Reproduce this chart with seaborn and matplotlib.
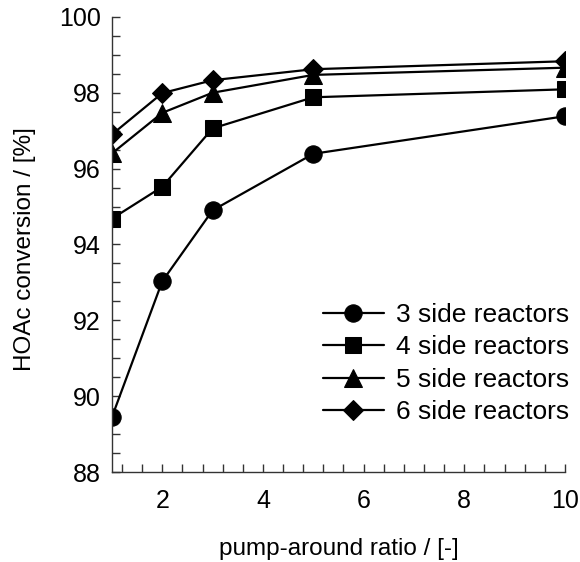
import matplotlib
matplotlib.use("Agg")
import matplotlib.pyplot as plt
import seaborn as sns
import pandas as pd
from matplotlib.ticker import MultipleLocator

sns.set_theme(style="white")
plt.rcParams['font.family'] = ['Liberation Sans', 'DejaVu Sans']
plt.rcParams['text.color'] = 'black'
plt.rcParams['axes.labelcolor'] = 'black'
plt.rcParams['xtick.color'] = 'black'
plt.rcParams['ytick.color'] = 'black'

ratio = [1, 2, 3, 5, 10]
conv_3 = [89.45, 93.03, 94.9, 96.39, 97.38]
conv_4 = [94.68, 95.52, 97.06, 97.88, 98.09]
conv_5 = [96.4, 97.47, 98.0, 98.47, 98.66]
conv_6 = [96.9, 97.99, 98.33, 98.62, 98.83]
series_names = ["3 side reactors", "4 side reactors", "5 side reactors", "6 side reactors"]

rows = []
for name, vals in zip(series_names, [conv_3, conv_4, conv_5, conv_6]):
    for x, y in zip(ratio, vals):
        rows.append({"ratio": x, "conv": y, "series": name})
df = pd.DataFrame(rows)

fig = plt.figure(figsize=(5.8, 5.62), dpi=100)
ax = fig.add_axes([0.193, 0.160, 0.781, 0.810])

marker_map = dict(zip(series_names, ["o", "s", "^", "D"]))
size_map = {"3 side reactors": 12.5, "4 side reactors": 11.5, "5 side reactors": 13, "6 side reactors": 10.5}
for name in series_names:
    sub = df[df["series"] == name]
    sns.lineplot(data=sub, x="ratio", y="conv", ax=ax, color="black",
                 marker=marker_map[name], markersize=size_map[name],
                 markeredgecolor="black", linewidth=1.6, label=name)

ax.set_xlim(1, 10)
ax.set_ylim(88, 100)
ax.xaxis.set_major_locator(MultipleLocator(2))
ax.xaxis.set_minor_locator(MultipleLocator(0.4))
ax.yaxis.set_major_locator(MultipleLocator(2))
ax.yaxis.set_minor_locator(MultipleLocator(0.5))
ax.tick_params(which="both", direction="in", length=6, width=1, color="#333333",
               labelsize=18, bottom=True, left=True, labelcolor="black")
ax.tick_params(axis="x", which="major", pad=12)
ax.tick_params(axis="y", which="major", pad=8)
for s in ["top", "right"]:
    ax.spines[s].set_visible(False)
for s in ["left", "bottom"]:
    ax.spines[s].set_color("#333333")
    ax.spines[s].set_linewidth(1)

ax.set_xlabel("pump-around ratio / [-]", fontsize=17.5)
ax.set_ylabel("HOAc conversion / [%]", fontsize=17.5)
ax.xaxis.set_label_coords(0.5, -0.145)
ax.yaxis.set_label_coords(-0.168, 0.49)

leg = ax.legend(loc="upper left", frameon=False, fontsize=19, handlelength=2.3,
                labelspacing=0.32, handletextpad=0.45, borderpad=0, borderaxespad=0,
                bbox_to_anchor=(323 / 580, 1 - 303 / 562), bbox_transform=fig.transFigure)

fig.savefig("out.png", dpi=100, facecolor="white")
